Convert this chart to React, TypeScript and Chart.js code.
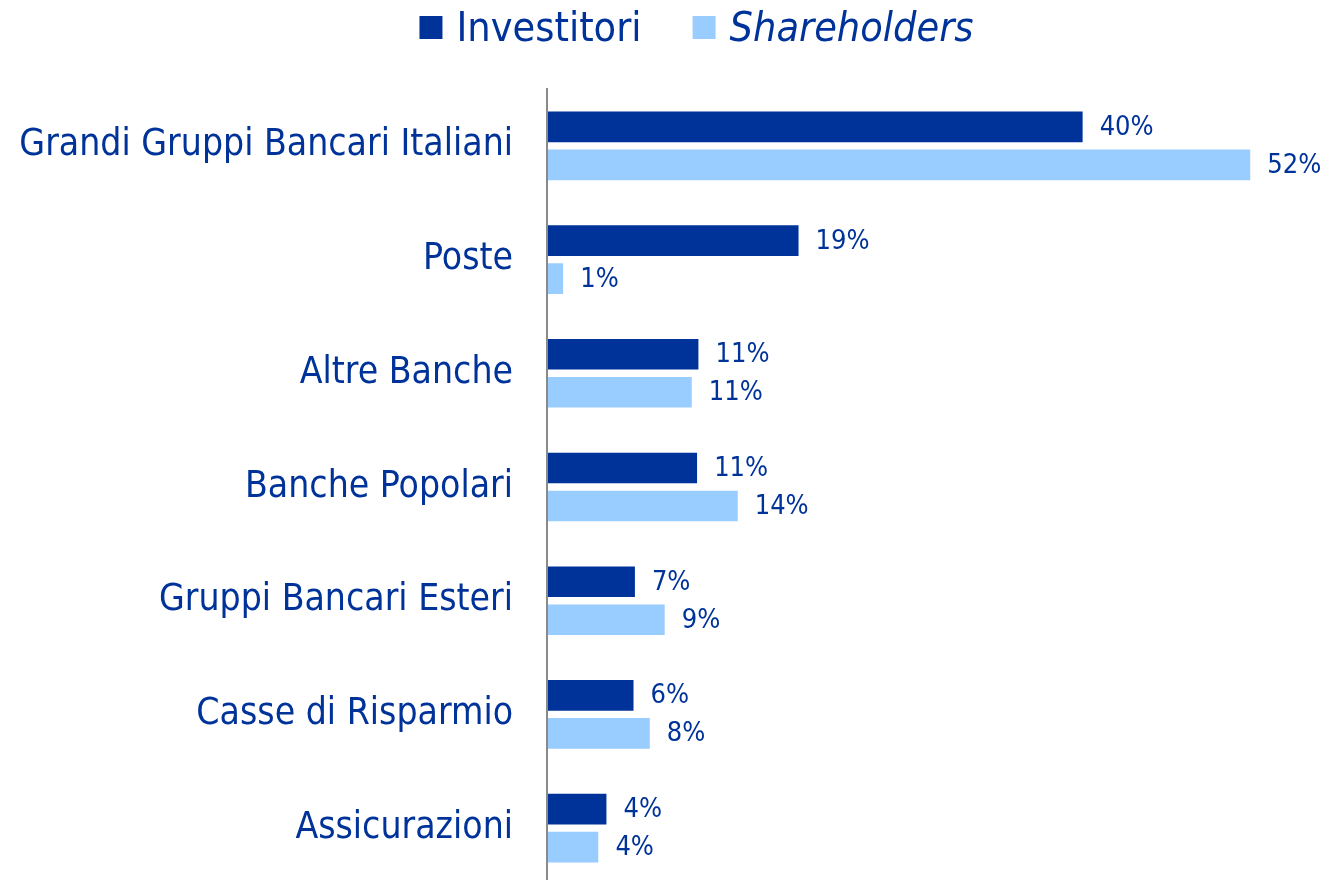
import React, { useEffect, useRef } from "react";
import { Chart, registerables } from "chart.js";

Chart.register(...registerables);

// ---- data ----
const categories = [
  "Grandi Gruppi Bancari Italiani",
  "Poste",
  "Altre Banche",
  "Banche Popolari",
  "Gruppi Bancari Esteri",
  "Casse di Risparmio",
  "Assicurazioni",
];
const seriesNames = ["Investitori", "Shareholders"];
const investitori = [39.6, 18.6, 11.2, 11.1, 6.5, 6.4, 4.4];
const shareholders = [52.0, 1.2, 10.7, 14.1, 8.7, 7.6, 3.8];

// ---- style ----
const DARK = "#003399";
const LIGHT = "#99CCFF";
const TEXT = "#003399";
const AXIS = "#8a8a8a";

function pickFont(): { family: string; scale: number } {
  const c = document.createElement("canvas").getContext("2d");
  if (c) {
    const s = "Grandi Gruppi Bancari Italiani";
    c.font = "40px 'DejaVu Sans Condensed', monospace";
    const a = c.measureText(s).width;
    c.font = "40px monospace";
    const b = c.measureText(s).width;
    if (Math.abs(a - b) > 1) return { family: "'DejaVu Sans Condensed', 'DejaVu Sans', sans-serif", scale: 1 };
  }
  return { family: "'DejaVu Sans', sans-serif", scale: 0.9 };
}

export default function App() {
  const ref = useRef<HTMLCanvasElement | null>(null);

  useEffect(() => {
    if (!ref.current) return;
    const { family, scale } = pickFont();
    const catSize = Math.round(37 * scale);
    const valSize = Math.round(27 * scale);
    const legSize = Math.round(41 * scale);

    const valueLabels = {
      id: "valueLabels",
      afterDatasetsDraw(chart: any) {
        const ctx = chart.ctx;
        ctx.save();
        ctx.font = `${valSize}px ${family}`;
        ctx.fillStyle = TEXT;
        ctx.textAlign = "left";
        ctx.textBaseline = "middle";
        chart.data.datasets.forEach((ds: any, di: number) => {
          const meta = chart.getDatasetMeta(di);
          meta.data.forEach((el: any, i: number) => {
            const v = ds.data[i] as number;
            ctx.fillText(Math.round(v) + "%", el.x + 17, el.y + 1);
          });
        });
        ctx.restore();
      },
    };

    const customLegend = {
      id: "customLegend",
      afterDraw(chart: any) {
        const ctx = chart.ctx;
        ctx.save();
        const box = 23;
        const gapText = 14;
        const gapItems = 51;
        const fonts = [`${legSize}px ${family}`, `italic ${legSize}px ${family}`];
        const widths = chart.data.datasets.map((ds: any, i: number) => {
          ctx.font = fonts[i];
          return ctx.measureText(ds.label).width;
        });
        const total = widths.reduce((s: number, w: number) => s + box + gapText + w, 0) + gapItems * (widths.length - 1);
        let x = 696.5 - total / 2;
        chart.data.datasets.forEach((ds: any, i: number) => {
          ctx.fillStyle = ds.backgroundColor;
          ctx.fillRect(x, 16, box, box);
          x += box + gapText;
          ctx.font = fonts[i];
          ctx.fillStyle = TEXT;
          ctx.textAlign = "left";
          ctx.textBaseline = "alphabetic";
          ctx.fillText(ds.label, x, 41);
          x += widths[i] + gapItems;
        });
        ctx.restore();
      },
    };

    const border = { top: 4, bottom: 4, left: 0, right: 0 };
    const chart = new Chart(ref.current, {
      type: "bar",
      data: {
        labels: categories,
        datasets: [
          {
            label: seriesNames[0],
            data: investitori,
            backgroundColor: DARK,
            borderColor: "#ffffff",
            borderWidth: border as any,
            borderSkipped: false,
            barThickness: 38,
          },
          {
            label: seriesNames[1],
            data: shareholders,
            backgroundColor: LIGHT,
            borderColor: "#ffffff",
            borderWidth: border as any,
            borderSkipped: false,
            barThickness: 38,
          },
        ],
      },
      options: {
        indexAxis: "y",
        animation: false,
        responsive: false,
        devicePixelRatio: 1,
        layout: { padding: { top: 89, left: 0, right: 3, bottom: 0 } },
        plugins: {
          legend: { display: false },
          tooltip: { enabled: false },
        },
        scales: {
          x: { display: false, min: 0, max: 57 },
          y: {
            afterFit(scale: any) {
              scale.width = 547;
              scale.paddingTop = 0;
              scale.paddingBottom = 0;
            },
            grid: { display: false, drawTicks: false },
            border: { display: true, color: AXIS, width: 2, z: 1 },
            ticks: {
              padding: 34,
              color: TEXT,
              font: { family, size: catSize },
            },
          },
        },
      },
      plugins: [valueLabels, customLegend],
    });
    return () => chart.destroy();
  }, []);

  return (
    <div
      style={{
        position: "fixed",
        left: 0,
        top: 0,
        width: 1321,
        height: 880,
        overflow: "hidden",
        background: "#ffffff",
      }}
    >
      <canvas ref={ref} width={1321} height={885} style={{ display: "block", width: 1321, height: 885 }} />
    </div>
  );
}
